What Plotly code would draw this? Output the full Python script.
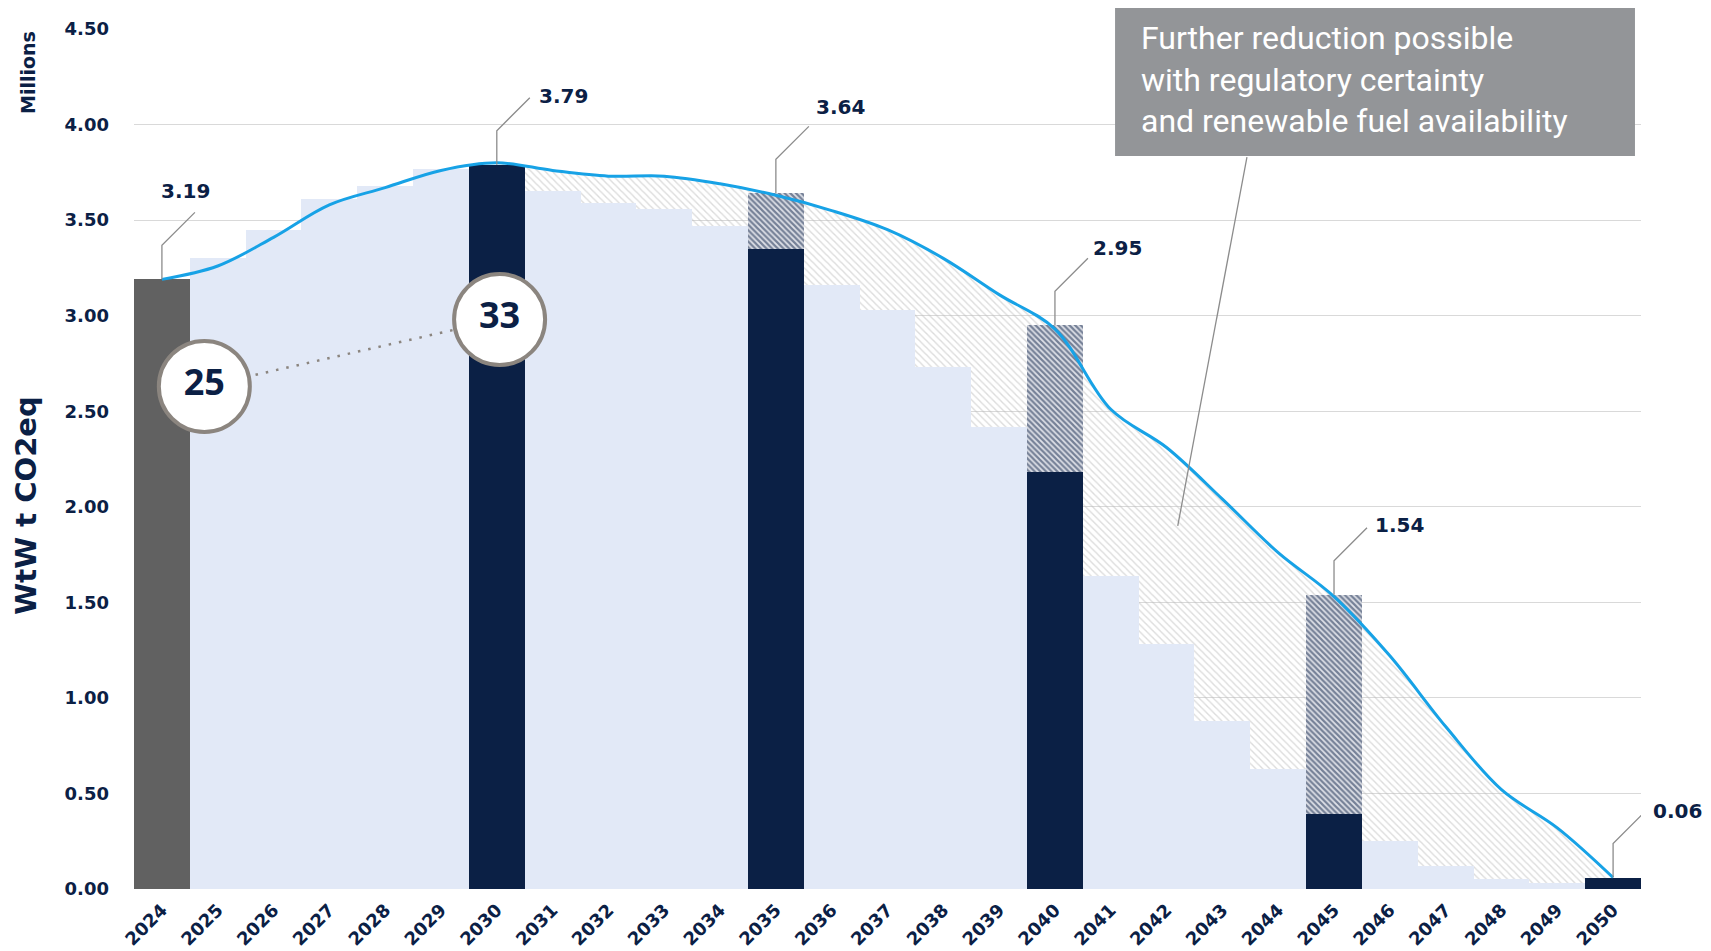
import plotly.graph_objects as go

# ---- data (millions t CO2eq, WtW) ----
years = list(range(2024, 2051))

# projected total emissions, smooth blue curve
emissions = [3.19, 3.26, 3.41, 3.58, 3.67, 3.76, 3.80, 3.76, 3.73, 3.73, 3.69,
             3.63, 3.55, 3.45, 3.30, 3.11, 2.93, 2.51, 2.31, 2.04, 1.76,
             1.53, 1.22, 0.85, 0.52, 0.32, 0.06]

# committed pathway, light blue steps (no value on milestone years)
committed = [None, 3.30, 3.45, 3.61, 3.68, 3.77, None, 3.65, 3.59, 3.56, 3.47,
             None, 3.16, 3.03, 2.73, 2.42, None, 1.64, 1.28, 0.88, 0.63,
             None, 0.25, 0.12, 0.05, 0.03, None]

actual_year = [2024]
actual_value = [3.19]

milestone_years = [2030, 2035, 2040, 2045, 2050]
target_low = [3.79, 3.35, 2.18, 0.39, 0.06]
target_high = [None, 3.64, 2.95, 1.54, None]

badge_text = ["25", "33"]

note_text = ("Further reduction possible<br>with regulatory certainty"
             "<br>and renewable fuel availability")

# ---- style ----
NAVY = "#0b2045"
LIGHT = "#e2e9f7"
BLUE = "#17a2e6"
GREY_BAR = "#616161"
RING = "#8b857f"
TICK_FONT = dict(family="DejaVu Sans", size=18, color=NAVY, weight=700)

# offsets of the value labels from their bar tops (px)
label_shift = [(24, 88, "center"), (40, 69, "left"), (38, 86, "left"),
               (36, 77, "left"), (39, 70, "left"), (38, 67, "left")]
badge_x = [2024.76, 2030.05]
badge_y = [2.63, 2.98]

x_range = [2023.5, 2050.5]
y_range = [0, 4.5]

hatch_segment = [None if h is None else round(h - l, 2)
                 for l, h in zip(target_low, target_high)]

fig = go.Figure()

# grey hatch between the committed steps and the curve (base subplot, under bars)
fig.add_trace(go.Scatter(
    x=years[6:], y=emissions[6:], mode="lines",
    line=dict(width=0, shape="spline"),
    fill="tozeroy", fillcolor="rgba(0,0,0,0)",
    fillpattern=dict(shape="\\", fgcolor="#b9b9b9", bgcolor="rgba(0,0,0,0)",
                     size=5, solidity=0.28),
    hoverinfo="skip",
))

# bars on the overlay subplot
fig.add_trace(go.Bar(x=years, y=committed, width=1, marker=dict(color=LIGHT, line_width=0),
                     xaxis="x2", yaxis="y2"))
fig.add_trace(go.Bar(x=actual_year, y=actual_value, width=1,
                     marker=dict(color=GREY_BAR, line_width=0), xaxis="x2", yaxis="y2"))
fig.add_trace(go.Bar(x=milestone_years, y=target_low, width=1,
                     marker=dict(color=NAVY, line_width=0), xaxis="x2", yaxis="y2"))
fig.add_trace(go.Bar(x=milestone_years, y=hatch_segment, width=1,
                     marker=dict(color="#dfe1e8", line_width=0,
                                 pattern=dict(shape="\\", fgcolor=NAVY, bgcolor="#dfe1e8",
                                              size=4, solidity=0.55)),
                     xaxis="x2", yaxis="y2"))

# total emissions curve
fig.add_trace(go.Scatter(x=years, y=emissions, mode="lines",
                         line=dict(color=BLUE, width=3, shape="spline"),
                         xaxis="x2", yaxis="y2"))

# badges with dotted connector
fig.add_trace(go.Scatter(x=badge_x, y=badge_y, mode="lines",
                         line=dict(color=RING, width=2.5, dash="2.5px,8px"),
                         xaxis="x2", yaxis="y2"))
fig.add_trace(go.Scatter(x=badge_x, y=badge_y, mode="markers+text", text=badge_text,
                         textposition="middle center",
                         textfont=dict(family="Open Sans", size=36, color=NAVY, weight=700),
                         marker=dict(size=91, color="white", line=dict(color=RING, width=4)),
                         xaxis="x2", yaxis="y2"))

# value labels with elbow leaders
label_x = actual_year + milestone_years
label_v = actual_value + [h if h is not None else l for l, h in zip(target_low, target_high)]
for (yr, val), (dx, dy, anchor) in zip(zip(label_x, label_v), label_shift):
    fig.add_shape(type="path", xref="x", yref="y", xsizemode="pixel", ysizemode="pixel",
                  xanchor=yr, yanchor=val, path="M0,0 L0,34 L33,67",
                  line=dict(color="#8c8c8c", width=1.3))
    fig.add_annotation(x=yr, y=val, xref="x", yref="y", text=f"{val:.2f}", showarrow=False,
                       xshift=dx, yshift=dy, xanchor=anchor, yanchor="middle",
                       font=dict(family="DejaVu Sans", size=20, color=NAVY, weight=700))

# note box + pointer
fig.add_shape(type="rect", xref="paper", yref="paper", x0=0.651, x1=0.996, y0=0.8524, y1=1.03,
              fillcolor="#939598", line_width=0, layer="above")
fig.add_annotation(xref="paper", yref="paper", x=0.6669, y=0.9411, xanchor="left",
                   yanchor="middle", align="left", text=note_text, showarrow=False,
                   font=dict(family="Roboto", size=32, color="white"))
fig.add_shape(type="line", xref="x", yref="y", x0=2043.44, y0=3.83, x1=2042.2, y1=1.9,
              line=dict(color="#8c8c8c", width=1.3))

# axis captions
fig.add_annotation(xref="paper", yref="paper", x=-0.0707, y=0.9494, text="Millions",
                   textangle=-90, showarrow=False, xanchor="center", yanchor="middle",
                   font=dict(family="DejaVu Sans", size=19, color=NAVY, weight=700))
fig.add_annotation(xref="paper", yref="paper", x=-0.0717, y=0.4457, text="WtW t CO2eq",
                   textangle=-90, showarrow=False, xanchor="center", yanchor="middle",
                   font=dict(family="DejaVu Sans", size=29, color=NAVY, weight=700))

# the page body adds an 8px margin, so the figure is 8px smaller on each axis
fig.update_layout(
    width=1703, height=943,
    margin=dict(l=126, r=70, t=21, b=61.5, autoexpand=False),
    paper_bgcolor="white", plot_bgcolor="white",
    barmode="stack", bargap=0, showlegend=False,
    xaxis=dict(range=x_range, tickvals=years, ticktext=[str(y) for y in years],
               tickangle=-45, showgrid=False, zeroline=False, showline=False,
               ticks="", ticklabelstandoff=6, tickfont=TICK_FONT, automargin=False),
    yaxis=dict(range=y_range, dtick=0.5, tick0=0, tickformat=".2f",
               gridcolor="#d9d9d9", gridwidth=1.3, zeroline=False, showline=False,
               ticks="", ticklabelstandoff=24, tickfont=TICK_FONT, automargin=False),
    xaxis2=dict(range=x_range, overlaying="x", anchor="y2", visible=False),
    yaxis2=dict(range=y_range, overlaying="y", anchor="x2", visible=False),
)

fig.write_html("out.html")
